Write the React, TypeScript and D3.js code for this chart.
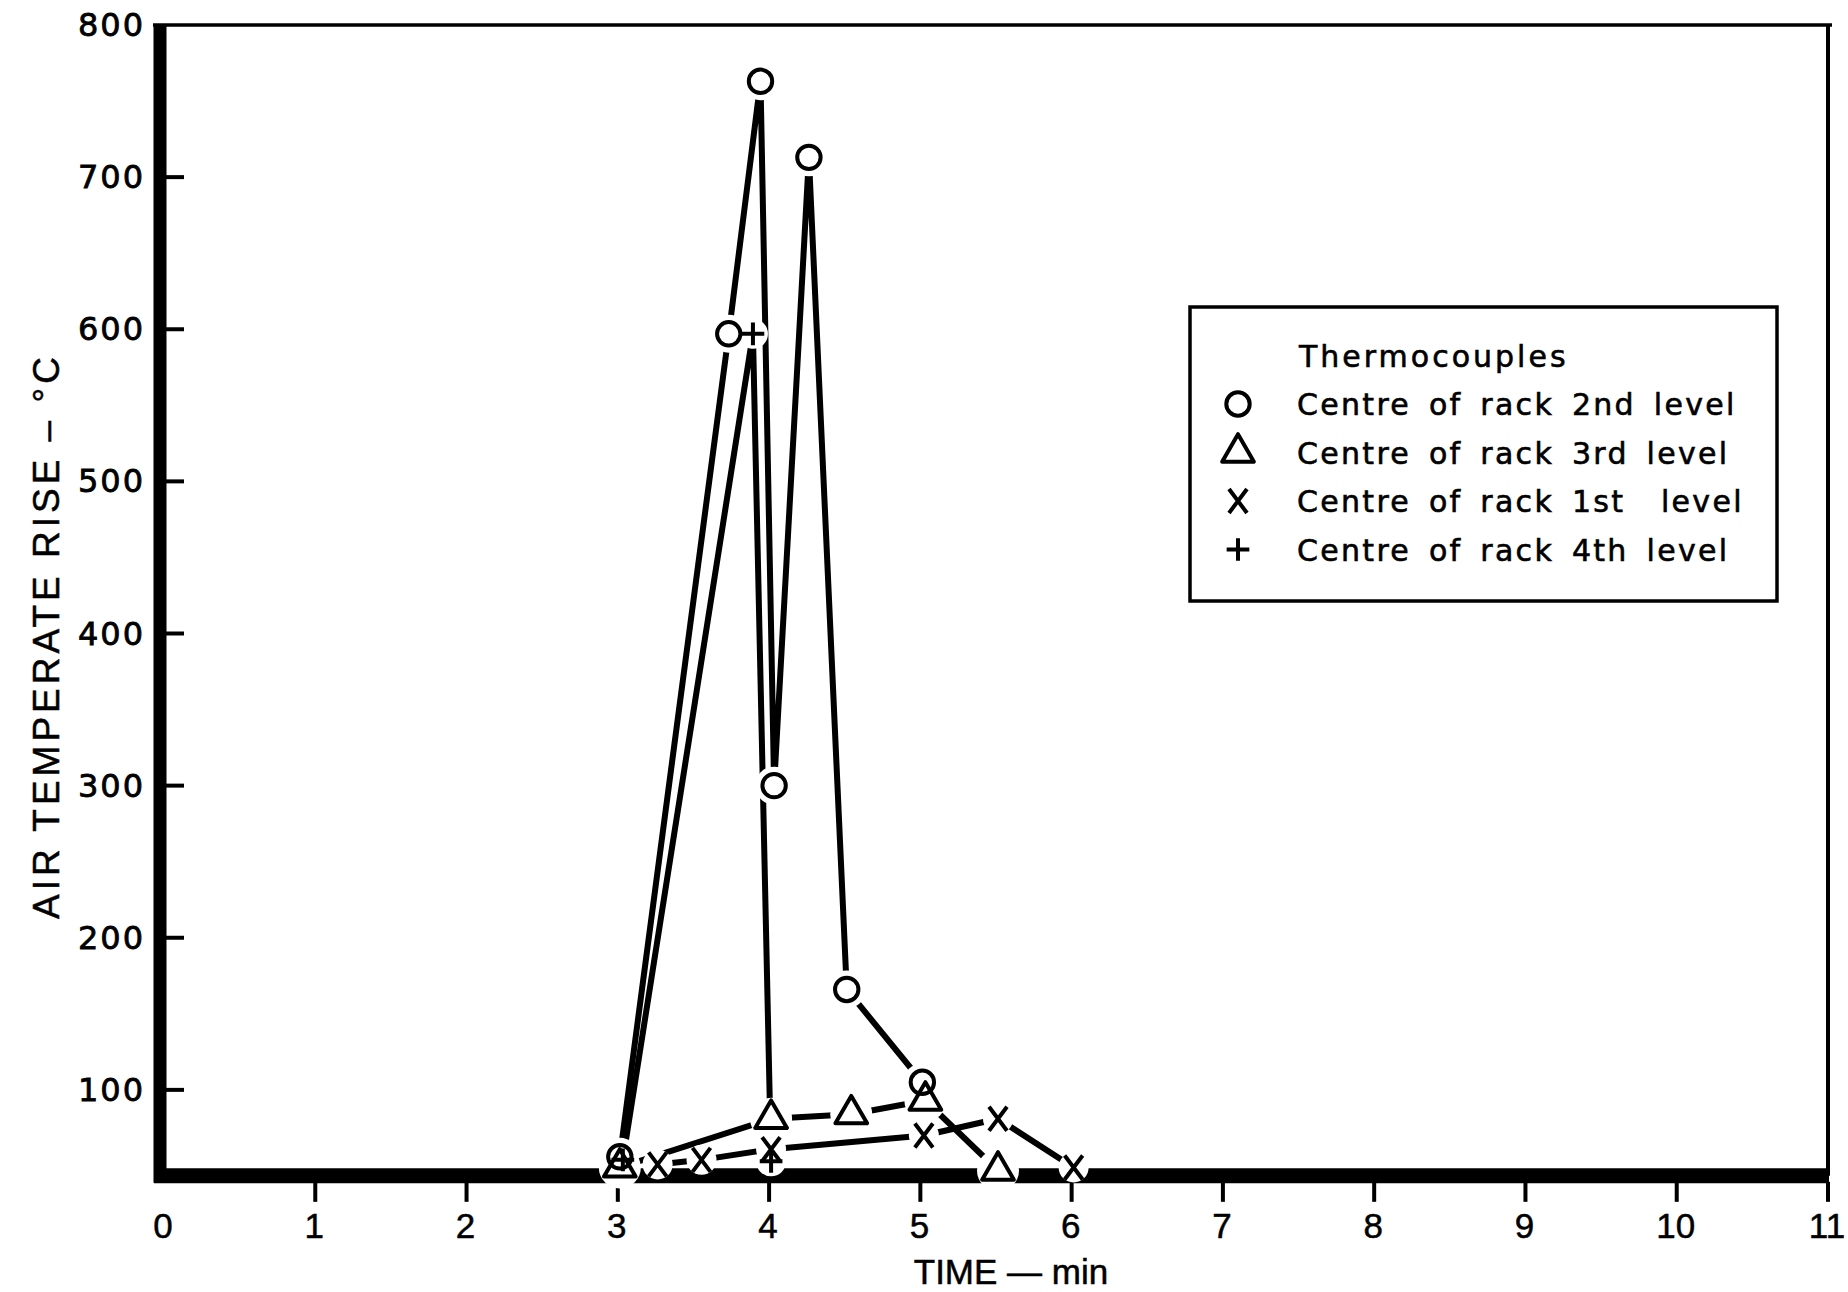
import React from 'react';
import * as d3 from 'd3';

// values
const yTicks = [100, 200, 300, 400, 500, 600, 700, 800];
const xTicks = [0, 1, 2, 3, 4, 5, 6, 7, 8, 9, 10, 11];
const axisFloor = 43.5; // the time axis sits just below 50 °C

const level2Time = [3.0, 3.72, 3.93, 4.02, 4.25, 4.5, 5.0];
const level2Temp = [56, 597, 763, 300, 713, 166, 105];

const level3Time = [3.0, 4.0, 4.53, 5.02, 5.5];
const level3Temp = [49, 81, 84, 93, 47];

const level1Time = [3.25, 3.54, 4.0, 5.01, 5.5, 6.0];
const level1Temp = [51, 54, 61, 70, 81, 49];

const level4Time = [3.02, 3.88, 4.0];
const level4Temp = [54, 597, 53];

const legendTitle = 'Thermocouples';
const seriesNames = [
  'Centre of rack 2nd level',
  'Centre of rack 3rd level',
  'Centre of rack 1st  level',
  'Centre of rack 4th level',
];
const seriesSymbols = ['circle', 'triangle', 'times', 'plus'];

const W = 1848;
const H = 1292;

const x = d3.scaleLinear().domain([0, 11]).range([166, 1830]);
const y = d3.scaleLinear().domain([0, 800]).range([1242, 25]);

const zip = (t: number[], v: number[]) => t.map((d, i) => ({ t: d, v: v[i] }));

const series = [
  { name: seriesNames[0], sym: seriesSymbols[0], pts: zip(level2Time, level2Temp) },
  { name: seriesNames[1], sym: seriesSymbols[1], pts: zip(level3Time, level3Temp) },
  { name: seriesNames[2], sym: seriesSymbols[2], pts: zip(level1Time, level1Temp) },
  { name: seriesNames[3], sym: seriesSymbols[3], pts: zip(level4Time, level4Temp) },
];

const symbolPath = (sym: string) => {
  if (sym === 'circle') return d3.symbol(d3.symbolCircle, 430)()!;
  if (sym === 'triangle') return d3.symbol(d3.symbolTriangle2, 720)()!;
  if (sym === 'plus') return d3.symbol(d3.symbolPlus, 170)()!;
  return 'M-9,-12L9,12M-9,12L9,-12';
};

const haloR: Record<string, number> = { circle: 19, triangle: 21, times: 15, plus: 15 };

const Marker = ({ sym, cx, cy }: { sym: string; cx: number; cy: number }) => (
  <path
    d={symbolPath(sym)}
    transform={`translate(${cx},${cy})`}
    fill="none"
    stroke="#000"
    strokeWidth={4}
    strokeLinejoin="round"
  />
);

const App = () => {
  const line = d3
    .line<{ t: number; v: number }>()
    .x(d => x(d.t))
    .y(d => y(d.v));

  const x0 = x(0);
  const yFloor = y(axisFloor);

  return (
    <svg
      width={W}
      height={H}
      viewBox={`0 0 ${W} ${H}`}
      style={{ position: 'absolute', left: 0, top: 0, background: '#fff' }}
    >
      <rect width={W} height={H} fill="#fff" />

      {/* frame */}
      <line x1={x0 - 13} x2={x(11) + 2} y1={y(800)} y2={y(800)} stroke="#000" strokeWidth={3.5} />
      <line x1={x(11) - 2} x2={x(11) - 2} y1={y(800)} y2={yFloor} stroke="#000" strokeWidth={4} />

      {/* y axis */}
      <line x1={x0 - 6} x2={x0 - 6} y1={y(800) - 1} y2={yFloor + 7} stroke="#000" strokeWidth={13} />
      {yTicks.filter(d => d < 800).map(d => (
        <line key={d} x1={x0} x2={x0 + 18} y1={y(d)} y2={y(d)} stroke="#000" strokeWidth={4} />
      ))}
      {yTicks.map(d => (
        <text
          key={d}
          x={145}
          y={y(d)}
          textAnchor="end"
          dominantBaseline="central"
          fontFamily="DejaVu Sans"
          fontSize={32}
          letterSpacing={2}
          stroke="#000"
          strokeWidth={0.8}
        >
          {d}
        </text>
      ))}

      {/* x axis */}
      <line x1={x0 - 12} x2={x(11) - 1} y1={yFloor} y2={yFloor} stroke="#000" strokeWidth={15} />
      {xTicks.filter(d => d > 0).map(d => (
        <line key={d} x1={x(d) - 2} x2={x(d) - 2} y1={yFloor + 6} y2={yFloor + 26} stroke="#000" strokeWidth={4} />
      ))}
      {xTicks.map(d => (
        <text
          key={d}
          x={x(d) - 3}
          y={1238}
          textAnchor="middle"
          fontFamily="Liberation Sans"
          fontSize={35}
          stroke="#000"
          strokeWidth={0.5}
        >
          {d}
        </text>
      ))}

      {/* axis titles */}
      <text
        x={1011}
        y={1284}
        textAnchor="middle"
        fontFamily="Liberation Sans"
        fontSize={35}
        stroke="#000"
        strokeWidth={0.5}
      >
        TIME — min
      </text>
      <text
        transform="translate(59,636) rotate(-90)"
        textAnchor="middle"
        fontFamily="Liberation Sans"
        fontSize={37}
        letterSpacing={4}
        stroke="#000"
        strokeWidth={0.5}
      >
        AIR TEMPERATE RISE – °C
      </text>

      {/* series lines */}
      {series.map(s => (
        <path
          key={s.name}
          d={line(s.pts)!}
          fill="none"
          stroke="#000"
          strokeWidth={6}
          strokeLinejoin="round"
        />
      ))}

      {/* white gaps around the plotted points */}
      {series.map(s =>
        s.pts.map((p, i) => (
          <circle key={`${s.name}-h${i}`} cx={x(p.t)} cy={y(p.v)} r={haloR[s.sym]} fill="#fff" />
        ))
      )}

      {series.map(s =>
        s.pts.map((p, i) => <Marker key={`${s.name}-m${i}`} sym={s.sym} cx={x(p.t)} cy={y(p.v)} />)
      )}

      {/* legend */}
      <g>
        <rect x={1190} y={307} width={587} height={294} fill="#fff" stroke="#000" strokeWidth={3.5} />
        <text
          x={1299}
          y={367}
          fontFamily="DejaVu Sans"
          fontSize={30}
          letterSpacing={3}
          stroke="#000"
          strokeWidth={0.6}
        >
          {legendTitle}
        </text>
        {series.map((s, i) => (
          <g key={s.name} transform={`translate(0, ${404 + i * 48.5})`}>
            <Marker sym={s.sym} cx={1238} cy={0} />
            <text
              x={1297}
              y={11}
              fontFamily="DejaVu Sans"
              fontSize={30}
              letterSpacing={2.3}
              wordSpacing={6}
              stroke="#000"
              strokeWidth={0.6}
              style={{ whiteSpace: 'pre' }}
            >
              {s.name}
            </text>
          </g>
        ))}
      </g>
    </svg>
  );
};

export default App;
